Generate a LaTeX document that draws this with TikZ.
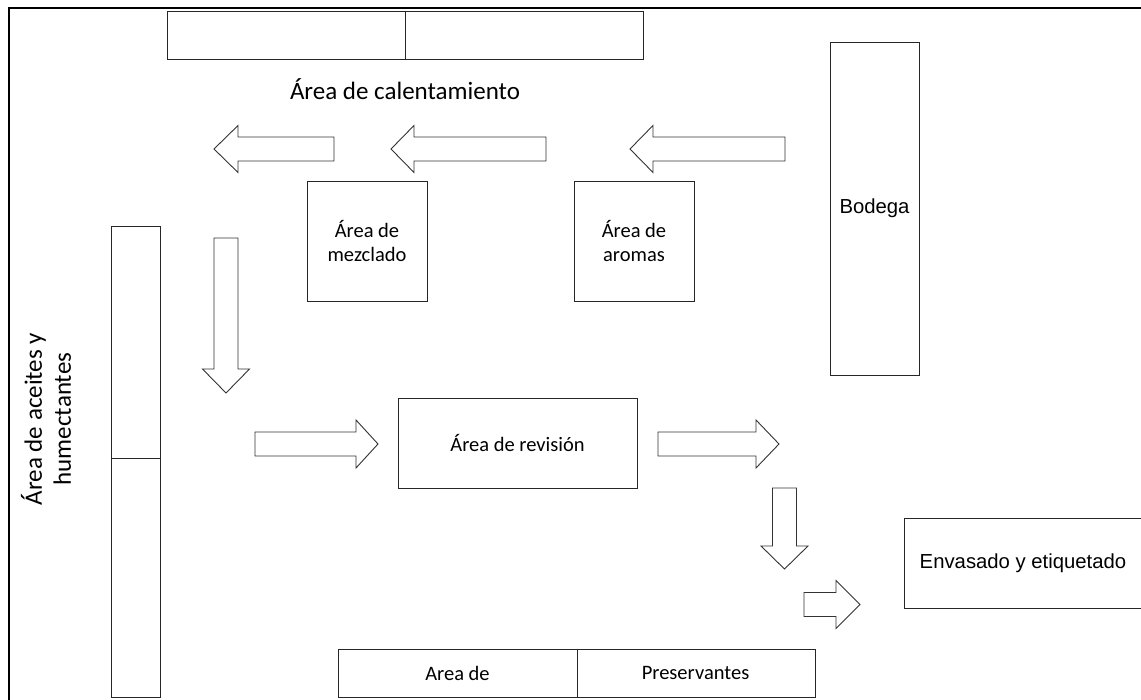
\documentclass[tikz,border=0pt]{standalone}
\usepackage{fontspec}
\setmainfont{Carlito}
\newfontfamily\arialfont{Liberation Sans}
\begin{document}
\begin{tikzpicture}[x=1pt,y=-1pt,
  box/.style={draw=black!85, line width=0.9pt, inner sep=0pt, align=center},
  blk/.style={draw=black!80, line width=0.9pt, fill=white, line join=miter},
  lbl/.style={font=\fontsize{20.5}{24}\selectfont, align=center, inner sep=0pt},
  big/.style={font=\fontsize{25}{29}\selectfont, align=center, inner sep=0pt},
  ari/.style={font=\arialfont\fontsize{20.3}{24}\selectfont, inner sep=0pt}]
\useasboundingbox (0,0) rectangle (1141,700);
\fill[white] (0,0) rectangle (1141,700);

% frame of the plan (top and left walls)
\draw[line width=2.6pt] (9,700) -- (9,8) -- (1141,8);

% heating area: long split bench at the top
\node[box, minimum width=476pt, minimum height=48pt] (heat) at (405,35) {};
\draw[black!85, line width=0.9pt] (heat.north) -- (heat.south);
\node[big] (heatlbl) at (405,89) {Área de calentamiento};

% mixing and aroma rooms
\node[box, lbl, minimum width=120pt, minimum height=120pt] (mix) at (367,241) {Área de\\mezclado};
\node[box, lbl, minimum width=120pt, minimum height=120pt] (aroma) at (634,241) {Área de\\aromas};

% warehouse
\node[box, ari, minimum width=89pt, minimum height=333pt] (store) at (874.5,208.5) {Bodega};

% oils and humectants: tall split bench on the left
\node[box, minimum width=49pt, minimum height=471pt] (oils) at (135.5,461.5) {};
\draw[black!85, line width=0.9pt] (oils.west |- 0,458) -- (oils.east |- 0,458);
\node[big, rotate=90] (oilslbl) at (46,419) {Área de aceites y\\humectantes};

% inspection room
\node[box, lbl, minimum width=239pt, minimum height=90pt] (check) at (517.5,443.5) {Área de revisión};

% packing and labelling
\node[box, minimum width=243pt, minimum height=90pt] (pack) at (1025.5,563) {};
\node[ari] (packlbl) at (1023,563) {Envasado y etiquetado};

% preservatives bench at the bottom
\node[box, minimum width=477pt, minimum height=48pt] (pres) at (576.5,673) {};
\draw[black!85, line width=0.9pt] (pres.north -| 577,0) -- (pres.south -| 577,0);
\node[lbl] (preslblA) at (457.5,673) {Area de};
\node[lbl] (preslblB) at (695.5,673) {Preservantes};

% block arrows showing the flow of material
\newcommand\leftarr[4]{% tip x, head base x, tail x, centre y
  \draw[blk] (#1,#4) -- (#2,#4-23.5) -- (#2,#4-12) -- (#3,#4-12) -- (#3,#4+12)
    -- (#2,#4+12) -- (#2,#4+23.5) -- cycle;}
\newcommand\rightarr[4]{% tail x, head base x, tip x, centre y
  \draw[blk] (#3,#4) -- (#2,#4-24) -- (#2,#4-12) -- (#1,#4-12) -- (#1,#4+12)
    -- (#2,#4+12) -- (#2,#4+24) -- cycle;}
\newcommand\downarr[4]{% top y, head base y, tip y, centre x
  \draw[blk] (#4,#3) -- (#4-23.5,#2) -- (#4-12,#2) -- (#4-12,#1) -- (#4+12,#1)
    -- (#4+12,#2) -- (#4+23.5,#2) -- cycle;}

\leftarr{630}{653}{785}{149}
\leftarr{391}{414}{546}{149}
\leftarr{214}{238}{334}{149}
\downarr{238}{369}{393}{226}
\rightarr{255}{356}{378}{444}
\rightarr{658}{756}{779}{444}
\downarr{488}{546}{569}{784.5}
\rightarr{804}{836}{860}{604.5}
\end{tikzpicture}
\end{document}
